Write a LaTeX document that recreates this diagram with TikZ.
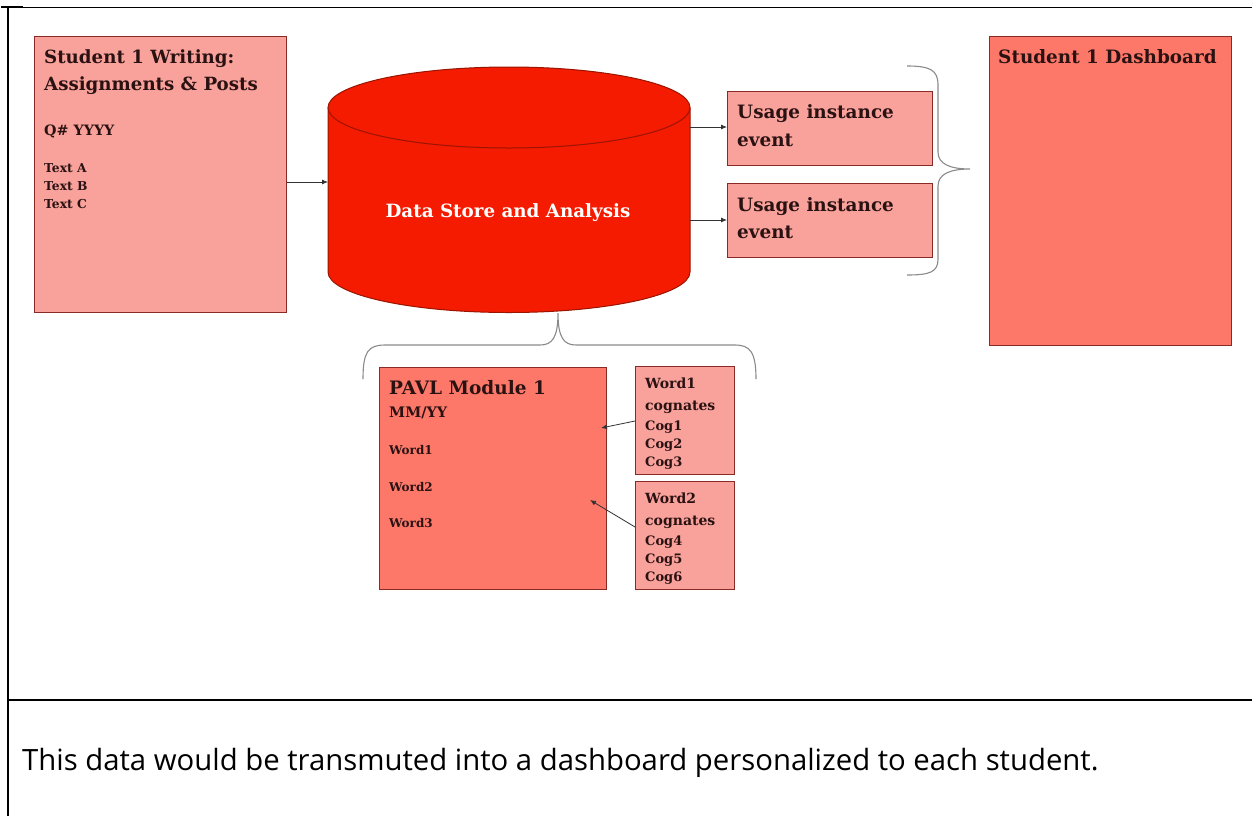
\documentclass[tikz,border=0pt]{standalone}
\usepackage{fontspec}
\setmainfont{DejaVu Serif}
\newfontfamily\capfont{Open Sans}
\usetikzlibrary{arrows.meta}
\definecolor{lightbox}{HTML}{F9A19B}
\definecolor{darkbox}{HTML}{FE786A}
\definecolor{boxline}{HTML}{8A2A26}
\definecolor{storered}{HTML}{F41B00}
\definecolor{storeline}{HTML}{9A1400}
\definecolor{boxtext}{HTML}{2A1212}
\definecolor{bracegray}{HTML}{8A8A8A}
\newcommand{\fs}[1]{\fontsize{#1}{#1}\selectfont\bfseries}
\tikzset{
  panel/.style={draw=boxline, line width=1.3pt, anchor=north west, inner sep=0pt},
  lightpanel/.style={panel, fill=lightbox},
  darkpanel/.style={panel, fill=darkbox},
  label/.style={anchor=base west, inner sep=0pt, text=boxtext},
  flow/.style={draw=black!80, line width=0.8pt, -{Latex[length=6pt,width=5pt]}},
  bracket/.style={draw=bracegray, line width=1.1pt},
  frame/.style={draw=black, line cap=rect}
}
\begin{document}
\begin{tikzpicture}[x=1pt,y=-1pt]
  \useasboundingbox (0,0) rectangle (1252,815);

  % table frame
  \draw[frame, line width=0.9pt] (8,7) -- (1252,7);
  \draw[frame, line width=2pt] (2,7) -- (22,7);
  \draw[frame, line width=2pt] (8,7) -- (8,815);
  \draw[frame, line width=2pt] (8,700) -- (1252,700);

  % writing source
  \node[lightpanel, minimum width=252, minimum height=276] (writing) at (34,36) {};
  \node[label, font=\fs{18.2}] (writingA) at (44,63) {Student 1 Writing:};
  \node[label, font=\fs{18.2}] (writingB) at (44,90) {Assignments \& Posts};
  \node[label, font=\fs{14.3}] (qyear) at (44,135) {Q\# YYYY};
  \node[label, font=\fs{12.3}] (textA) at (44,172) {Text A};
  \node[label, font=\fs{12.3}] (textB) at (44,190) {Text B};
  \node[label, font=\fs{12.3}] (textC) at (44,208) {Text C};

  % data store cylinder
  \fill[storered] (328,107.5) -- (328,272) arc[start angle=180, end angle=0, x radius=181, y radius=40.5]
        -- (690,107.5) arc[start angle=0, end angle=-180, x radius=181, y radius=40.5] -- cycle;
  \draw[storeline, line width=1pt] (328,107.5) -- (328,272) arc[start angle=180, end angle=0, x radius=181, y radius=40.5]
        -- (690,107.5);
  \draw[storeline, line width=1pt] (509,107.5) ellipse[x radius=181, y radius=40.5];
  \node[anchor=base, inner sep=0pt, text=white, font=\fs{18.3}] (store) at (508,217) {Data Store and Analysis};
  \coordinate (storeW) at (328,182);
  \coordinate (storeE1) at (690,127);
  \coordinate (storeE2) at (690,220);
  \coordinate (storeS) at (558,313);

  % usage events
  \node[lightpanel, minimum width=205, minimum height=74] (usage1) at (727,91) {};
  \node[label, font=\fs{18.4}] (usage1A) at (737,118) {Usage instance};
  \node[label, font=\fs{18.4}] (usage1B) at (737,146) {event};
  \node[lightpanel, minimum width=205, minimum height=74] (usage2) at (727,183) {};
  \node[label, font=\fs{18.4}] (usage2A) at (737,211) {Usage instance};
  \node[label, font=\fs{18.4}] (usage2B) at (737,238) {event};

  % dashboard
  \node[darkpanel, minimum width=242, minimum height=309] (dash) at (989,36) {};
  \node[label, font=\fs{18.4}] (dashT) at (998,63) {Student 1 Dashboard};

  % module and cognates
  \node[darkpanel, minimum width=227, minimum height=222] (module) at (379,367) {};
  \node[label, font=\fs{18.5}] (moduleT) at (389,394) {PAVL Module 1};
  \node[label, font=\fs{14.5}] (mmyy) at (389,417) {MM/YY};
  \node[label, font=\fs{12}] (word1) at (389,454) {Word1};
  \node[label, font=\fs{12}] (word2) at (389,491) {Word2};
  \node[label, font=\fs{12}] (word3) at (389,527) {Word3};

  \node[lightpanel, minimum width=99, minimum height=108] (cog1) at (635,366) {};
  \node[label, font=\fs{14}] (cog1A) at (645,388) {Word1};
  \node[label, font=\fs{14}] (cog1B) at (645,410) {cognates};
  \node[label, font=\fs{13}] (cog1C) at (645,430) {Cog1};
  \node[label, font=\fs{13}] (cog1D) at (645,448) {Cog2};
  \node[label, font=\fs{13}] (cog1E) at (645,466) {Cog3};
  \node[lightpanel, minimum width=99, minimum height=108] (cog2) at (635,481) {};
  \node[label, font=\fs{14}] (cog2A) at (645,503) {Word2};
  \node[label, font=\fs{14}] (cog2B) at (645,525) {cognates};
  \node[label, font=\fs{13}] (cog2C) at (645,545) {Cog4};
  \node[label, font=\fs{13}] (cog2D) at (645,563) {Cog5};
  \node[label, font=\fs{13}] (cog2E) at (645,581) {Cog6};

  \coordinate (mod1) at (601,428);
  \coordinate (mod2) at (590,500);
  \coordinate (cog1W) at (635,421);
  \coordinate (cog2W) at (635,527);

  % connectors
  \draw[flow] (writing.east |- storeW) -- (storeW);
  \draw[flow] (storeE1) -- (usage1.west |- storeE1);
  \draw[flow] (storeE2) -- (usage2.west |- storeE2);
  \draw[flow] (cog1W) -- (mod1);
  \draw[flow] (cog2W) -- (mod2);

  % braces
  \draw[bracket] (907,66) .. controls (930,66) and (938,70) .. (938,85) -- (938,152)
     .. controls (938,164) and (950,169) .. (970,169)
     .. controls (950,169) and (938,174) .. (938,186) -- (938,259)
     .. controls (938,272) and (930,275) .. (907,275);
  \draw[bracket] (363,379) .. controls (363,352) and (368,345) .. (385,345) -- (540,345)
     .. controls (552,345) and (558,338) .. (storeS)
     .. controls (558,338) and (564,345) .. (576,345) -- (735,345)
     .. controls (750,345) and (756,352) .. (756,379);

  % caption row
  \node[anchor=base west, inner sep=0pt, font=\capfont\fontsize{29.3}{33}\selectfont] (caption) at (22,770)
    {This data would be transmuted into a dashboard personalized to each student.};
\end{tikzpicture}
\end{document}
